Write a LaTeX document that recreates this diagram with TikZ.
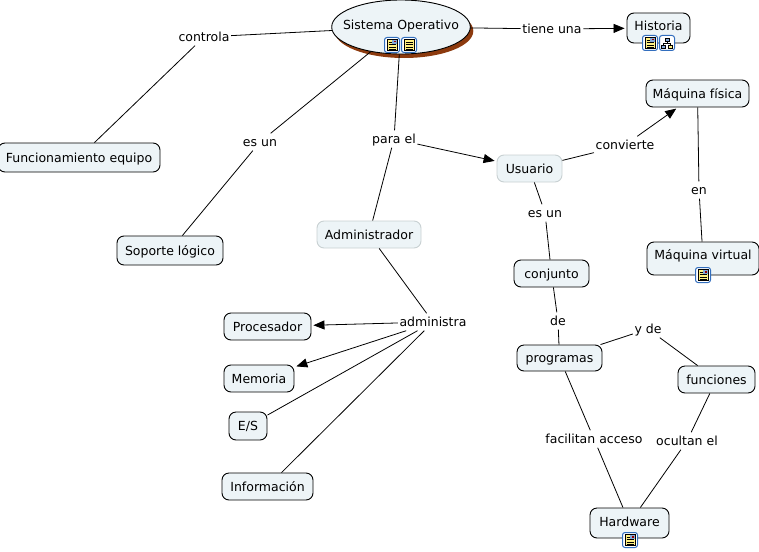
\documentclass[tikz,border=0pt]{standalone}
\usepackage{fontspec}
\setmainfont{DejaVu Sans}
\usepackage{xcolor}
\usepackage{tikz}
\usetikzlibrary{arrows.meta, shapes.geometric, shadows}
\definecolor{nodefill}{RGB}{237, 244, 247}
\definecolor{softline}{RGB}{200, 208, 210}
\definecolor{rootshadow}{RGB}{140, 58, 14}
\definecolor{iconblue}{RGB}{50, 110, 190}
\definecolor{iconpage}{RGB}{255, 240, 130}
\tikzset{
	concept/.style={draw=black, fill=nodefill, rounded corners=7pt, line width=0.9pt, inner sep=0pt, text height=9pt, text depth=0pt, font=\fontsize{12.5}{14}\selectfont},
	softconcept/.style={concept, draw=softline},
	rootconcept/.style={concept, ellipse, inner xsep=-9pt, general shadow={fill=rootshadow, shadow xshift=3pt, shadow yshift=-4pt}},
	linktext/.style={inner xsep=1.5pt, inner ysep=4pt, text height=9pt, text depth=0pt, font=\fontsize{12.5}{14}\selectfont},
	link/.style={line width=0.8pt},
	linkto/.style={link, -{Triangle[length=11pt, width=9pt]}, shorten >=2pt},
	iconbox/.style={draw=iconblue, fill=white, rounded corners=2.5pt, line width=1pt},
	pics/pageicon/.style={code={
		\draw[iconbox] (-7.5,-7.5) rectangle (7.5,7.5);
		\draw[black, fill=iconpage, line width=0.5pt] (-5,-5.5) rectangle (5,5.5);
		\foreach \y in {-3,-0.5,2,4} \draw[black, line width=0.4pt] (-3.5,\y) -- (3.5,\y);
	}},
	pics/photoicon/.style={code={
		\draw[iconbox] (-7.5,-7.5) rectangle (7.5,7.5);
		\draw[black, fill=iconpage, line width=0.5pt] (-5,-5.5) rectangle (5,5.5);
		\foreach \y in {-0.5,2,4} \draw[black, line width=0.4pt] (-3.5,\y) -- (3.5,\y);
		\draw[black, line width=0.4pt] (-3.5,-3) -- (-0.5,-3);
		\fill[iconblue!60] (0,-5) rectangle (4.5,-1);
		\fill[red!60!black] (1.5,-4) rectangle (3.5,-2.5);
	}},
	pics/mapicon/.style={code={
		\draw[iconbox] (-7.5,-7.5) rectangle (7.5,7.5);
		\draw[black, line width=0.5pt] (0,-2) -- (0,0) (-3.5,2) -- (-3.5,0) -- (3.5,0) -- (3.5,2);
		\draw[black, fill=iconblue!60, line width=0.5pt] (-2,-5) rectangle (2,-2);
		\draw[black, fill=iconblue!60, line width=0.5pt] (-5.5,2) rectangle (-1.5,5);
		\draw[black, fill=iconpage, line width=0.5pt] (1.5,2) rectangle (5.5,5);
	}},
}

\begin{document}
\begin{tikzpicture}[x=1pt, y=-1pt]
	\useasboundingbox (0,0) rectangle (759,551);

	% concepts
	\node[rootconcept, minimum width=137pt, minimum height=54pt, text depth=3pt] (sistema) at (401,27) {Sistema Operativo};
	\node[concept, minimum width=63pt, minimum height=30pt, text depth=3pt] (historia) at (658.5,28) {Historia};
	\node[concept, minimum width=103pt, minimum height=27pt] (fisica) at (697.5,93.5) {Máquina física};
	\node[concept, minimum width=112pt, minimum height=33pt, text depth=7pt] (virtual) at (703,258.5) {Máquina virtual};
	\node[softconcept, minimum width=65pt, minimum height=27pt] (usuario) at (529.5,168.5) {Usuario};
	\node[concept, minimum width=162pt, minimum height=29pt] (equipo) at (79,157.5) {Funcionamiento equipo};
	\node[concept, minimum width=106pt, minimum height=29pt] (soporte) at (170,250.5) {Soporte lógico};
	\node[softconcept, minimum width=104pt, minimum height=27pt] (admin) at (369,234.5) {Administrador};
	\node[concept, minimum width=75pt, minimum height=27pt] (conjunto) at (551.5,273.5) {conjunto};
	\node[concept, minimum width=87pt, minimum height=27pt] (procesador) at (267.5,326.5) {Procesador};
	\node[concept, minimum width=70pt, minimum height=27pt] (memoria) at (259,378.5) {Memoria};
	\node[concept, minimum width=38pt, minimum height=28pt] (es) at (248,426) {E/S};
	\node[concept, minimum width=91pt, minimum height=27pt] (info) at (267.5,486.5) {Información};
	\node[concept, minimum width=85pt, minimum height=26pt] (programas) at (559.5,358) {programas};
	\node[concept, minimum width=77pt, minimum height=27pt] (funciones) at (716.5,379.5) {funciones};
	\node[concept, minimum width=79pt, minimum height=30pt, text depth=3pt] (hardware) at (629.5,523) {Hardware};

	% icons
	\pic at (392,45) {photoicon};
	\pic at (409,45) {pageicon};
	\pic at (650,43) {photoicon};
	\pic at (667,43) {mapicon};
	\pic at (703,275) {photoicon};
	\pic at (630,540) {photoicon};

	% link phrases
	\node[linktext] (controla) at (204,37) {controla};
	\node[linktext] (tiene) at (552,29) {tiene una};
	\node[linktext] (esun) at (260,142) {es un};
	\node[linktext] (parael) at (394,139) {para el};
	\node[linktext] (convierte) at (625,145) {convierte};
	\node[linktext] (en) at (699,190) {en};
	\node[linktext] (esunb) at (545,213) {es un};
	\node[linktext] (de) at (558,321) {de};
	\node[linktext] (yde) at (648,329) {y de};
	\node[linktext] (administra) at (433,322) {administra};
	\node[linktext] (facilitan) at (594,439) {facilitan acceso};
	\node[linktext] (ocultan) at (687,441) {ocultan el};

	% connectors
	\draw[link] (sistema) -- (controla);
	\draw[link] (controla) -- (equipo);
	\draw[link] (sistema) -- (tiene);
	\draw[linkto] (tiene) -- (historia);
	\draw[link] (sistema) -- (esun);
	\draw[link] (esun) -- (soporte);
	\draw[link] (sistema) -- (parael);
	\draw[link] (parael) -- (admin);
	\draw[linkto] (parael) -- (usuario);
	\draw[link] (usuario) -- (convierte);
	\draw[linkto] (convierte) -- (fisica);
	\draw[link] (fisica) -- (en);
	\draw[link] (en) -- (virtual);
	\draw[link] (usuario) -- (esunb);
	\draw[link] (esunb) -- (conjunto);
	\draw[link] (conjunto) -- (de);
	\draw[link] (de) -- (programas);
	\draw[link] (programas) -- (yde);
	\draw[link] (yde) -- (funciones);
	\draw[link] (programas) -- (facilitan);
	\draw[link] (facilitan) -- (hardware);
	\draw[link] (funciones) -- (ocultan);
	\draw[link] (ocultan) -- (hardware);
	\draw[link] (admin) -- (administra);
	\draw[linkto] (administra) -- (procesador);
	\draw[linkto] (administra) -- (memoria);
	\draw[link] (administra) -- (es);
	\draw[link] (administra) -- (info);
\end{tikzpicture}
\end{document}
